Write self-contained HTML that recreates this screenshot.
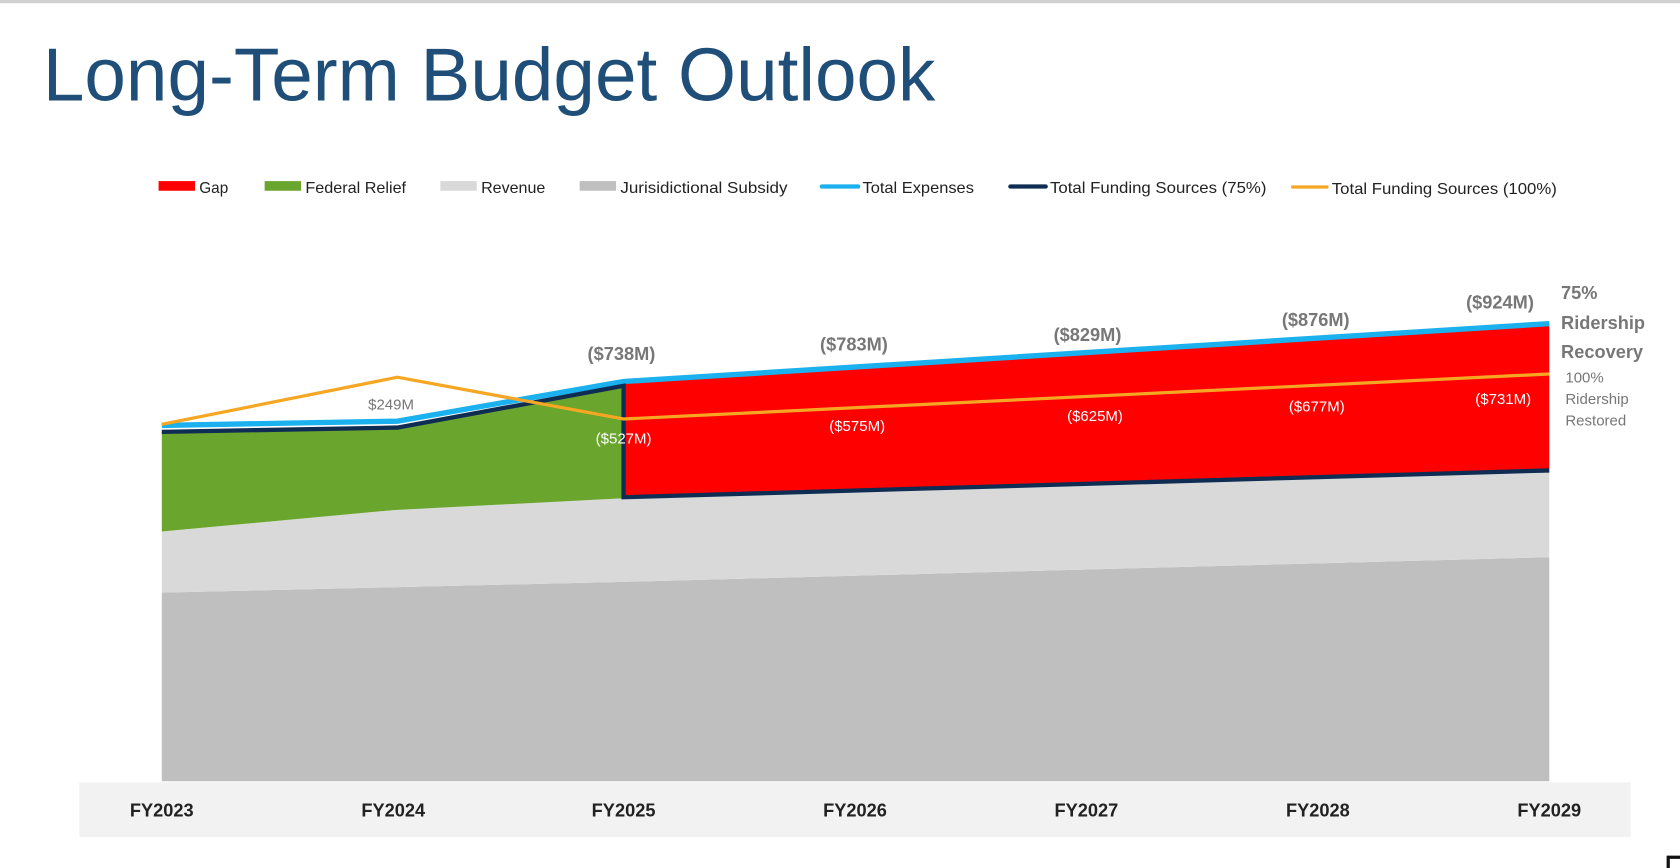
<!DOCTYPE html>
<html><head><meta charset="utf-8"><style>
html,body{margin:0;padding:0;background:#fff;width:1680px;height:868px;overflow:hidden}
svg{display:block}
text{font-family:"Liberation Sans",Arial,sans-serif}
</style></head><body>
<svg width="1680" height="868" viewBox="0 0 1568 810" preserveAspectRatio="none">
<rect x="0" y="0" width="1568" height="3" fill="#d0d0d0"/>
<text x="40" y="94" font-size="70" fill="#1F4E79" textLength="833" lengthAdjust="spacingAndGlyphs">Long-Term Budget Outlook</text>
<!-- legend -->
<g font-size="15" fill="#222">
<rect x="148" y="169" width="34" height="9" fill="#FF0000"/><text x="186" y="180" textLength="27" lengthAdjust="spacingAndGlyphs">Gap</text>
<rect x="247" y="169" width="34" height="9" fill="#6AA52E"/><text x="285" y="180" textLength="94" lengthAdjust="spacingAndGlyphs">Federal Relief</text>
<rect x="411" y="169" width="34" height="9" fill="#D9D9D9"/><text x="449" y="180" textLength="60" lengthAdjust="spacingAndGlyphs">Revenue</text>
<rect x="541" y="169" width="34" height="9" fill="#BFBFBF"/><text x="579" y="180" textLength="156" lengthAdjust="spacingAndGlyphs">Jurisidictional Subsidy</text>
<rect x="765" y="172" width="38" height="4" fill="#1BB0EE" rx="2"/><text x="805" y="180" textLength="104" lengthAdjust="spacingAndGlyphs">Total Expenses</text>
<rect x="941" y="172" width="37" height="4" fill="#0F2D52" rx="2"/><text x="980" y="180" textLength="202" lengthAdjust="spacingAndGlyphs">Total Funding Sources (75%)</text>
<rect x="1205" y="173" width="35" height="3" fill="#F5A623" rx="1"/><text x="1243" y="181" textLength="210" lengthAdjust="spacingAndGlyphs">Total Funding Sources (100%)</text>
</g>
<!-- axis band -->
<rect x="74" y="730" width="1448" height="51" fill="#F2F2F2"/>
<polygon points="151,553 367,548 582,543 1446,520 1446,729 151,729" fill="#BFBFBF"/>
<polygon points="151,496 367,476 582,465 1446,439 1446,520 582,543 367,548 151,553" fill="#D9D9D9"/>
<polygon points="151,403 371,399 582,360 582,465 367,476 151,496" fill="#6AA52E"/>
<polygon points="582,356 1446,302 1446,439 582,464" fill="#FF0000"/>
<polyline points="151,397 371,393 582,356 1446,302" fill="none" stroke="#1BB0EE" stroke-width="5"/>
<polyline points="151,403 371,399 582,360 582,464 1446,439" fill="none" stroke="#0F2D52" stroke-width="4"/>
<polyline points="151,396 371,352 582,391 1446,349" fill="none" stroke="#F5A623" stroke-width="3"/>
<text x="365" y="382" font-size="14" fill="#777" text-anchor="middle">$249M</text>
<g font-size="17" font-weight="bold" fill="#777" text-anchor="middle">
<text x="580" y="336">($738M)</text><text x="797" y="327">($783M)</text><text x="1015" y="318">($829M)</text><text x="1228" y="304">($876M)</text><text x="1400" y="288">($924M)</text>
</g>
<g font-size="14" fill="#fff" text-anchor="middle">
<text x="582" y="414">($527M)</text><text x="800" y="402">($575M)</text><text x="1022" y="393">($625M)</text><text x="1229" y="384">($677M)</text><text x="1403" y="377">($731M)</text>
</g>
<g font-size="17" font-weight="bold" fill="#777">
<text x="1457" y="279">75%</text><text x="1457" y="307">Ridership</text><text x="1457" y="334">Recovery</text>
</g>
<g font-size="14" fill="#777">
<text x="1461" y="357">100%</text><text x="1461" y="377">Ridership</text><text x="1461" y="397">Restored</text>
</g>
<g font-size="17" font-weight="bold" fill="#222" text-anchor="middle">
<text x="151" y="762">FY2023</text><text x="367" y="762">FY2024</text><text x="582" y="762">FY2025</text><text x="798" y="762">FY2026</text><text x="1014" y="762">FY2027</text><text x="1230" y="762">FY2028</text><text x="1446" y="762">FY2029</text>
</g>
<path d="M1557,810 L1557,800 L1568,800" fill="none" stroke="#111" stroke-width="3"/>
</svg>
</body></html>
